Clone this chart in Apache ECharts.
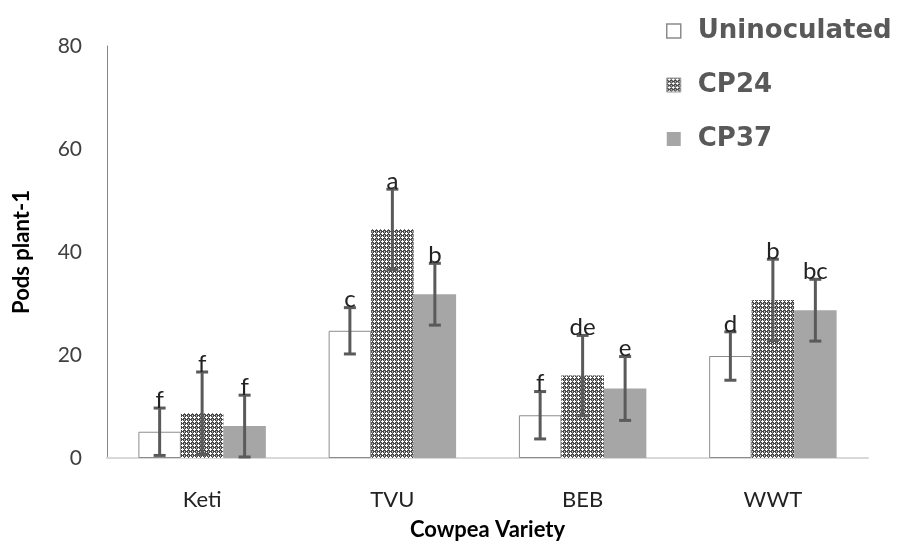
<!DOCTYPE html>
<html><head><meta charset="utf-8">
<script src="https://cdn.jsdelivr.net/npm/echarts@6/dist/echarts.min.js"></script>
<style>html,body{margin:0;padding:0;background:#fff;}#c{width:898px;height:541px;}</style>
</head><body><div id="c"></div>
<script>
var categories = ['Keti', 'TVU', 'BEB', 'WWT'];
var seriesNames = ['Uninoculated', 'CP24', 'CP37'];
var uninoculated = [5.1, 24.7, 8.3, 19.8];
var cp24 = [8.7, 44.4, 16.0, 30.7];
var cp37 = [6.2, 31.8, 13.5, 28.7];
var errUninoculated = [4.6, 4.5, 4.6, 4.7];
var errCp24 = [8.0, 7.8, 7.8, 7.9];
var errCp37 = [6.0, 6.0, 6.2, 6.0];
var lettersUninoculated = ['f', 'c', 'f', 'd'];
var lettersCp24 = ['f', 'a', 'de', 'b'];
var lettersCp37 = ['f', 'b', 'e', 'bc'];
var yTicks = [0, 20, 40, 60, 80];

var values = [uninoculated, cp24, cp37];
var errs = [errUninoculated, errCp24, errCp37];
var letters = [lettersUninoculated, lettersCp24, lettersCp37];

// checkered pattern for CP24
var pc = document.createElement('canvas');
pc.width = 4; pc.height = 4;
var ctx = pc.getContext('2d');
ctx.fillStyle = '#484848'; ctx.fillRect(0, 0, 4, 4);
ctx.fillStyle = '#8a8a8a'; ctx.fillRect(0, 0, 1, 1);
ctx.fillStyle = '#ffffff';
ctx.fillRect(2, 0, 1, 3); ctx.fillRect(1, 1, 3, 1);
ctx.fillStyle = '#c8c8c8';
ctx.fillRect(0, 3, 1, 1);
var pattern = { image: pc, repeat: 'repeat' };

var catGap = 0.33;
var styles = [
  { color: '#ffffff', borderColor: '#8c8c8c', borderWidth: 1 },
  { color: pattern, borderWidth: 0 },
  { color: '#a6a6a6', borderWidth: 0 }
];

var series = [];
seriesNames.forEach(function (name, i) {
  series.push({
    name: name, type: 'bar', data: values[i],
    barGap: '0%', barCategoryGap: (catGap * 100) + '%',
    itemStyle: styles[i],
    emphasis: { disabled: true }, z: 2
  });
});
seriesNames.forEach(function (name, i) {
  series.push({
    type: 'custom', z: 5, silent: true,
    data: categories.map(function (c, j) { return [j, values[i][j], errs[i][j], j]; }),
    renderItem: function (params, api) {
      var j = api.value(3);
      var v = api.value(1), e = api.value(2);
      var band = api.size([1, 0])[0];
      var bw = band * (1 - catGap) / 3;
      var center = api.coord([j, v]);
      var x = center[0] + (i - 1) * bw;
      var yt = api.coord([j, v + e])[1];
      var yb = api.coord([j, Math.max(v - e, 0)])[1];
      var cap = 6;
      var st = { stroke: '#5a5a5a', lineWidth: 3 };
      return {
        type: 'group',
        children: [
          { type: 'line', shape: { x1: x, y1: yt, x2: x, y2: yb }, style: st },
          { type: 'line', shape: { x1: x - cap, y1: yt, x2: x + cap, y2: yt }, style: st },
          { type: 'line', shape: { x1: x - cap, y1: yb, x2: x + cap, y2: yb }, style: st },
          { type: 'text', z2: 10, style: { text: letters[i][j], x: x, y: yt + 4, align: 'center', verticalAlign: 'bottom',
            fill: '#222222', font: '24px Lato' } }
        ]
      };
    }
  });
});

var chart = echarts.init(document.getElementById('c'), null, { renderer: 'canvas' });
chart.setOption({
  animation: false,
  backgroundColor: '#ffffff',
  grid: { left: 107, right: 30, top: 46, bottom: 83, containLabel: false, outerBoundsMode: 'none' },
  legend: {
    orient: 'vertical', left: 661, top: 11, itemGap: 24,
    itemWidth: 14, itemHeight: 14, icon: 'rect',
    data: seriesNames.map(function (n, i) {
      return { name: n, itemStyle: i === 0 ? { color: '#fff', borderColor: '#8c8c8c', borderWidth: 1.5 } : (i === 1 ? { color: pattern, borderColor: '#999', borderWidth: 1 } : { color: '#a6a6a6' }) };
    }),
    textStyle: { fontFamily: 'DejaVu Sans', fontWeight: 'bold', fontSize: 26, lineHeight: 30, color: '#595959', padding: [0, 0, 0, 12] }
  },
  xAxis: {
    type: 'category', data: categories,
    name: 'Cowpea Variety', nameLocation: 'middle', nameGap: 61,
    nameTextStyle: { fontFamily: 'Lato', fontWeight: 'bold', fontSize: 22, color: '#000' },
    axisLine: { lineStyle: { color: '#d9d9d9', width: 2 } },
    axisTick: { show: false },
    axisLabel: { margin: 31, fontFamily: 'Lato', fontSize: 22, color: '#222' }
  },
  yAxis: {
    type: 'value', min: 0, max: 80, interval: 20,
    name: 'Pods plant-1', nameLocation: 'middle', nameGap: 74,
    nameTextStyle: { fontFamily: 'Lato', fontWeight: 'bold', fontSize: 22, color: '#000' },
    axisLine: { show: true, lineStyle: { color: '#868686', width: 1 } },
    axisTick: { show: false },
    splitLine: { show: false },
    axisLabel: { margin: 25, fontFamily: 'Lato', fontSize: 21, color: '#404040',
      formatter: function (v) { return yTicks.indexOf(v) >= 0 ? String(v) : ''; } }
  },
  series: series
});
</script></body></html>
